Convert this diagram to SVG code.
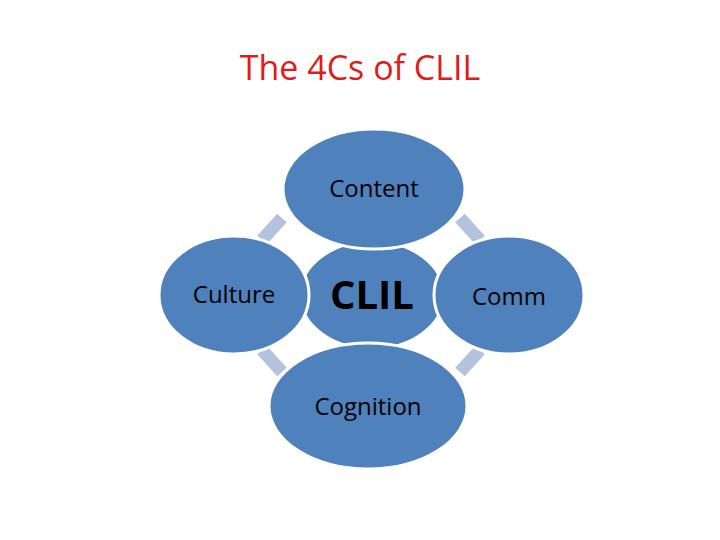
<svg xmlns="http://www.w3.org/2000/svg" width="720" height="540" viewBox="0 0 720 540">
<style>
.n{fill:#4f81bd;stroke:#fff;stroke-width:3}
.t{font-family:"Open Sans","Liberation Sans",sans-serif;fill:#000;text-anchor:middle}
.c{stroke:#b3c3de;stroke-width:13}
</style>
<rect width="720" height="540" fill="#fff"/>
<text x="360" y="80" font-family="Open Sans,Liberation Sans,sans-serif" font-size="34" fill="#e21a1a" text-anchor="middle">The 4Cs of CLIL</text>
<g id="connectors">
<line class="c" x1="262" y1="240" x2="282" y2="218"/>
<line class="c" x1="460" y1="218" x2="480" y2="240"/>
<line class="c" x1="262" y1="350" x2="282" y2="372"/>
<line class="c" x1="460" y1="372" x2="480" y2="350"/>
</g>
<g id="clil"><ellipse class="n" cx="372" cy="295" rx="72" ry="54"/><text class="t" x="372" y="309" font-size="40" font-weight="bold" font-family="Liberation Sans,sans-serif">CLIL</text></g>
<g id="content"><ellipse class="n" cx="374" cy="189" rx="91" ry="60"/><text class="t" x="374" y="197" font-size="24">Content</text></g>
<g id="culture"><ellipse class="n" cx="234" cy="295" rx="75" ry="59"/><text class="t" x="234" y="303" font-size="24">Culture</text></g>
<g id="comm"><ellipse class="n" cx="509" cy="295" rx="75" ry="59"/><text class="t" x="509" y="305" font-size="24">Comm</text></g>
<g id="cognition"><ellipse class="n" cx="368" cy="406" rx="99" ry="63"/><text class="t" x="368" y="415" font-size="24">Cognition</text></g>
</svg>
